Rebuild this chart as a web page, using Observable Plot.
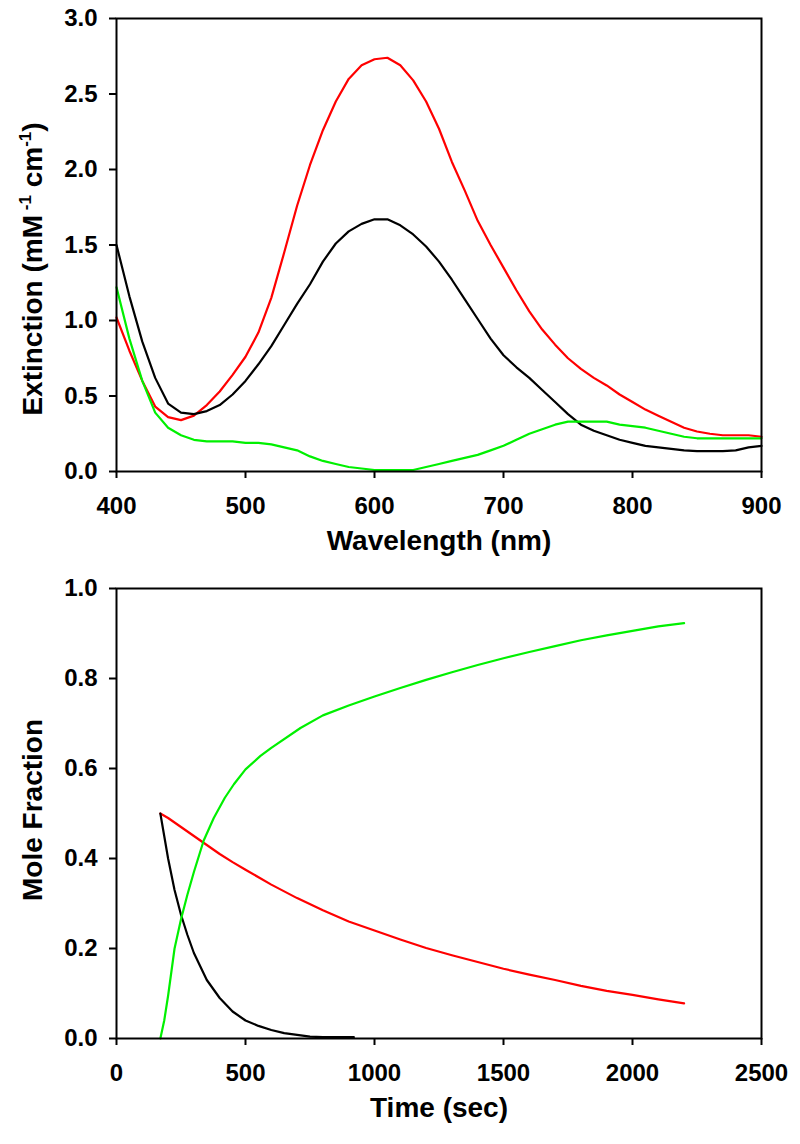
<!DOCTYPE html>
<html><head><meta charset="utf-8">
<script src="https://cdn.jsdelivr.net/npm/d3@7"></script>
<script src="https://cdn.jsdelivr.net/npm/@observablehq/plot@0.6"></script>
<style>body{margin:0;background:#fff} svg{display:block}</style>
</head><body><div id="chart"></div>
<script>
// ---- Top panel: extinction spectra ----
const wavelength = [400,410,420,430,440,450,460,470,480,490,500,510,520,530,540,550,560,570,580,590,600,610,620,630,640,650,660,670,680,690,700,710,720,730,740,750,760,770,780,790,800,810,820,830,840,850,860,870,880,890,900];
const extRed   = [1.02,0.80,0.60,0.43,0.36,0.34,0.37,0.44,0.53,0.64,0.76,0.92,1.15,1.45,1.76,2.03,2.26,2.45,2.60,2.69,2.73,2.74,2.69,2.59,2.45,2.27,2.05,1.86,1.66,1.50,1.35,1.20,1.06,0.94,0.84,0.75,0.68,0.62,0.57,0.51,0.46,0.41,0.37,0.33,0.29,0.265,0.25,0.24,0.24,0.24,0.23];
const extBlack = [1.50,1.16,0.86,0.62,0.45,0.39,0.38,0.40,0.44,0.51,0.60,0.71,0.83,0.97,1.11,1.24,1.39,1.51,1.59,1.64,1.67,1.67,1.63,1.57,1.49,1.39,1.27,1.14,1.01,0.88,0.77,0.69,0.62,0.54,0.46,0.38,0.31,0.27,0.24,0.21,0.19,0.17,0.16,0.15,0.14,0.135,0.135,0.135,0.14,0.16,0.17];
const extGreen = [1.22,0.88,0.60,0.39,0.29,0.24,0.21,0.20,0.20,0.20,0.19,0.19,0.18,0.16,0.14,0.10,0.07,0.05,0.03,0.02,0.01,0.01,0.01,0.01,0.03,0.05,0.07,0.09,0.11,0.14,0.17,0.21,0.25,0.28,0.31,0.33,0.33,0.33,0.33,0.31,0.30,0.29,0.27,0.25,0.23,0.22,0.22,0.22,0.22,0.22,0.22];
const wlTicks  = [400,500,600,700,800,900];
const extTicks = [0,0.5,1.0,1.5,2.0,2.5,3.0];

// ---- Bottom panel: mole fractions vs time ----
const timeRed  = [170,200,250,300,350,400,450,500,600,700,800,900,1000,1100,1200,1300,1400,1500,1600,1700,1800,1900,2000,2100,2200];
const fracRed  = [0.50,0.49,0.47,0.45,0.43,0.41,0.392,0.375,0.342,0.312,0.285,0.26,0.24,0.22,0.201,0.185,0.17,0.155,0.142,0.13,0.117,0.106,0.097,0.087,0.078];
const timeBlack = [170,185,200,225,250,275,300,350,400,450,500,550,600,650,700,750,800,850,920];
const fracBlack = [0.50,0.45,0.40,0.33,0.275,0.23,0.19,0.13,0.09,0.06,0.04,0.028,0.019,0.012,0.008,0.004,0.003,0.003,0.003];
const timeGreen = [170,185,200,225,250,275,300,338,377,420,455,500,558,600,713,800,900,1000,1100,1200,1300,1400,1500,1600,1700,1800,1900,2000,2100,2200];
const fracGreen = [0,0.04,0.095,0.20,0.265,0.32,0.37,0.44,0.49,0.535,0.565,0.598,0.628,0.646,0.69,0.718,0.74,0.76,0.779,0.797,0.814,0.83,0.845,0.859,0.872,0.885,0.896,0.906,0.916,0.923];
const timeTicks = [0,500,1000,1500,2000,2500];
const fracTicks = [0,0.2,0.4,0.6,0.8,1.0];

const colors = {red: "#ff0000", black: "#000000", green: "#00f000"};
const FONT = "'Liberation Sans', Arial, Helvetica, sans-serif";

function zip(xs, ys, key) { return xs.map((x, i) => ({x, y: ys[i], key})); }

function panel({height, marginBottom, xDomain, xTicks, yDomain, yTicks, series, xTitle}) {
  return Plot.plot({
    width: 800, height,
    marginTop: 18, marginLeft: 116, marginRight: 39, marginBottom,
    style: {fontFamily: FONT, fontSize: "24px", fontWeight: "bold", color: "#000", background: "#fff", overflow: "visible"},
    x: {domain: xDomain},
    y: {domain: yDomain},
    marks: [
      ...series.map(s => Plot.line(s.data, {x: "x", y: "y", stroke: s.color, strokeWidth: 2.2})),
      Plot.frame({stroke: "#000", strokeWidth: 2}),
      Plot.axisX({ticks: xTicks, tickSize: 7, tickPadding: 18, strokeWidth: 2, tickFormat: d3.format("d"), label: null}),
      Plot.axisY({ticks: yTicks, tickSize: 7, tickPadding: 12, strokeWidth: 2, tickFormat: d3.format(".1f"), label: null}),
      Plot.text([xTitle], {text: d => d, frameAnchor: "bottom", dy: 78, fontSize: 28, fontWeight: "bold"})
    ]
  });
}

const topPanel = panel({
  height: 570, marginBottom: 99,
  xDomain: [400, 900], xTicks: wlTicks, yDomain: [0, 3], yTicks: extTicks,
  series: [
    {data: zip(wavelength, extRed, "red"), color: colors.red},
    {data: zip(wavelength, extBlack, "black"), color: colors.black},
    {data: zip(wavelength, extGreen, "green"), color: colors.green}
  ],
  xTitle: "Wavelength (nm)"
});

const bottomPanel = panel({
  height: 574, marginBottom: 106,
  xDomain: [0, 2500], xTicks: timeTicks, yDomain: [0, 1], yTicks: fracTicks,
  series: [
    {data: zip(timeRed, fracRed, "red"), color: colors.red},
    {data: zip(timeBlack, fracBlack, "black"), color: colors.black},
    {data: zip(timeGreen, fracGreen, "green"), color: colors.green}
  ],
  xTitle: "Time (sec)"
});

// Rotated y-axis titles (with superscripts for the top one)
function yTitle(svg, cy, parts) {
  const t = d3.select(svg).append("text")
    .attr("transform", `translate(42,${cy}) rotate(-90)`)
    .attr("text-anchor", "middle")
    .attr("font-size", 28).attr("font-weight", "bold")
    .attr("font-family", FONT).attr("fill", "#000");
  let shifted = false;
  for (const p of parts) {
    const s = t.append("tspan").text(p.text);
    if (p.sup && !shifted) { s.attr("font-size", 17).attr("dy", -11); shifted = true; }
    else if (!p.sup && shifted) { s.attr("dy", 11); shifted = false; }
    else if (p.sup) { s.attr("font-size", 17); }
  }
}
yTitle(topPanel, 269, [
  {text: "Extinction (mM"}, {text: " -1", sup: true}, {text: " cm"}, {text: "-1", sup: true}, {text: ")"}
]);
yTitle(bottomPanel, 240, [{text: "Mole Fraction"}]);

document.getElementById("chart").append(topPanel, bottomPanel);
</script></body></html>
